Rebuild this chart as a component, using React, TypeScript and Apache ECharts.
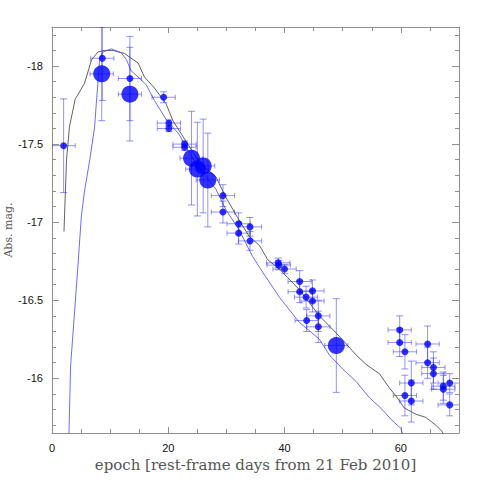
import React, { useEffect, useRef } from "react";
import * as echarts from "echarts";

// ---- data ----
const smallX = [2.0, 8.65, 13.4, 19.2, 20.1, 20.1, 22.8, 22.8, 29.4, 29.4, 32.1, 32.1, 34.05, 34.05, 38.9, 39.0, 40.0, 42.6, 42.6, 44.8, 43.7, 44.8, 45.8, 43.8, 45.8, 59.8, 59.8, 60.7, 64.6, 64.6, 65.6, 65.6, 61.8, 60.7, 61.8, 67.3, 67.3, 68.4, 68.4];
const smallY = [-17.49, -18.05, -17.92, -17.8, -17.635, -17.6, -17.5, -17.48, -17.17, -17.065, -16.99, -16.93, -16.97, -16.88, -16.74, -16.725, -16.7, -16.62, -16.555, -16.56, -16.52, -16.495, -16.4, -16.37, -16.33, -16.31, -16.23, -16.17, -16.22, -16.1, -16.07, -16.03, -15.97, -15.89, -15.855, -15.95, -15.93, -15.97, -15.83];
const smallYErr = [0.3, 0.27, 0.27, 0.035, 0.02, 0.02, 0.02, 0.02, 0.07, 0.07, 0.07, 0.07, 0.06, 0.06, 0.03, 0.03, 0.03, 0.07, 0.07, 0.07, 0.07, 0.07, 0.1, 0.07, 0.1, 0.09, 0.09, 0.11, 0.115, 0.1, 0.1, 0.1, 0.14, 0.13, 0.135, 0.09, 0.09, 0.06, 0.07];
const smallXErr = [2, 2, 2, 2, 2, 2, 2, 2, 2, 2, 2, 2, 2, 2, 2, 2, 2, 2, 2, 2, 2, 2, 2, 2, 2, 2, 2, 2, 2, 2, 2, 2, 2, 2, 2, 2, 2, 2, 2];

const bigX = [8.55, 13.4, 24.0, 25.0, 26.0, 26.8, 48.9];
const bigY = [-17.95, -17.82, -17.41, -17.34, -17.36, -17.27, -16.21];
const bigYErr = [0.3, 0.3, 0.3, 0.3, 0.3, 0.3, 0.3];
const bigXErr = [2, 2, 2, 2, 2, 2, 2];

const blackX = [2.06, 2.5, 3.0, 4.0, 4.2, 5.6, 6.8, 7.9, 9.0, 10.5, 12.5, 13.6, 14.8, 15.9, 17.6, 19.6, 20.8, 22.5, 25.4, 28.2, 29.9, 31.9, 33.9, 35.7, 37.1, 39.1, 42.5, 46.0, 49.4, 52.3, 54.0, 56.3, 58.0, 59.1, 60.6, 62.6, 64.3, 66.0, 67.1, 67.6];
const blackY = [-16.94, -17.4, -17.61, -17.79, -17.8, -17.89, -18.04, -18.09, -18.1, -18.1, -18.08, -18.05, -18.02, -17.93, -17.86, -17.76, -17.65, -17.55, -17.38, -17.29, -17.16, -17.03, -16.91, -16.85, -16.76, -16.7, -16.57, -16.4, -16.27, -16.15, -16.09, -16.03, -15.94, -15.89, -15.81, -15.77, -15.75, -15.7, -15.66, -15.62];

const blueX = [2.9, 3.2, 4.46, 5.05, 5.6, 6.5, 7.33, 7.62, 7.9, 8.2, 8.76, 10.2, 11.9, 12.8, 13.6, 15.1, 16.2, 17.6, 19.6, 21.9, 23.1, 24.2, 25.9, 28.2, 29.9, 32.2, 34.5, 35.7, 39.1, 42.5, 46.0, 47.7, 50.0, 52.3, 54.5, 56.8, 58.5, 60.0, 60.5];
const blueY = [-15.62, -16.08, -16.72, -17.04, -17.2, -17.4, -17.61, -17.76, -17.89, -18.05, -18.09, -18.11, -18.085, -18.04, -17.97, -17.92, -17.88, -17.78, -17.66, -17.56, -17.48, -17.41, -17.32, -17.21, -17.08, -16.95, -16.78, -16.71, -16.52, -16.36, -16.25, -16.15, -16.06, -15.98, -15.88, -15.8, -15.73, -15.68, -15.62];

const X_MIN = 0;
const X_MAX = 70;
const X_STEP = 20;
const Y_MIN = -18.25;
const Y_MAX = -15.65;

const xName = "epoch [rest-frame days from 21 Feb 2010]";
const yName = "Abs. mag.";

export default function App() {
  const ref = useRef<HTMLDivElement>(null);
  useEffect(() => {
    if (!ref.current) return;
    const chart = echarts.init(ref.current, null, { renderer: "svg" });

    const errData: number[][] = [];
    smallX.forEach((x, i) => errData.push([x, smallY[i], smallXErr[i], smallYErr[i]]));
    bigX.forEach((x, i) => errData.push([x, bigY[i], bigXErr[i], bigYErr[i]]));

    const errColor = "rgba(40,40,255,0.5)";
    const renderErr = (params: any, api: any) => {
      const x = api.value(0);
      const y = api.value(1);
      const xe = api.value(2);
      const ye = api.value(3);
      const l = api.coord([x - xe, y]);
      const r = api.coord([x + xe, y]);
      const t = api.coord([x, y - ye]);
      const b = api.coord([x, y + ye]);
      const style = { stroke: errColor, lineWidth: 1, fill: "none" };
      const cw = 3.5;
      const ch = 2.5;
      const ln = (x1: number, y1: number, x2: number, y2: number) => ({
        type: "line",
        shape: { x1, y1, x2, y2 },
        style,
      });
      return {
        type: "group",
        children: [
          ln(l[0], l[1], r[0], r[1]),
          ln(l[0], l[1] - ch, l[0], l[1] + ch),
          ln(r[0], r[1] - ch, r[0], r[1] + ch),
          ln(t[0], t[1], b[0], b[1]),
          ln(t[0] - cw, t[1], t[0] + cw, t[1]),
          ln(b[0] - cw, b[1], b[0] + cw, b[1]),
        ],
      };
    };

    const frame = "#8f8f8f";
    const baseX = {
      type: "value",
      min: X_MIN,
      max: X_MAX,
      interval: X_STEP,
      axisLine: { show: true, onZero: false, lineStyle: { color: frame, width: 1 } },
      axisTick: { show: true, inside: true, length: 6, lineStyle: { color: frame } },
      minorTick: { show: true, splitNumber: 4, length: 4, lineStyle: { color: frame } },
      splitLine: { show: false },
      minorSplitLine: { show: false },
    };
    const baseY = {
      type: "value",
      inverse: true,
      min: Y_MIN,
      max: Y_MAX,
      axisLine: { show: true, onZero: false, lineStyle: { color: frame, width: 1 } },
      axisTick: { show: true, inside: true, length: 7, lineStyle: { color: frame } },
      minorTick: { show: true, splitNumber: 5, length: 4, lineStyle: { color: frame } },
      splitLine: { show: false },
      minorSplitLine: { show: false },
    };

    chart.setOption({
      animation: false,
      backgroundColor: "#ffffff",
      grid: {
        left: 52,
        right: 26,
        top: 27,
        bottom: 52,
        containLabel: false,
        outerBoundsMode: "none",
      },
      xAxis: [
        {
          ...baseX,
          position: "bottom",
          name: xName,
          nameLocation: "middle",
          nameGap: 22,
          nameTextStyle: { fontFamily: "DejaVu Serif", fontSize: 15, color: "#555555" },
          axisLabel: {
            show: true,
            margin: 9,
            showMaxLabel: false,
            fontFamily: "Liberation Sans",
            fontSize: 11,
            color: "#111111",
          },
        },
        { ...baseX, position: "top", axisLabel: { show: false } },
      ],
      yAxis: [
        {
          ...baseY,
          position: "left",
          name: yName,
          nameLocation: "middle",
          nameMoveOverlap: false,
          nameGap: 38,
          nameTextStyle: { fontFamily: "DejaVu Serif", fontSize: 11, color: "#555555" },
          axisLabel: {
            show: true,
            margin: 9,
            showMinLabel: false,
            showMaxLabel: false,
            fontFamily: "Liberation Sans",
            fontSize: 11,
            color: "#111111",
            formatter: (v: number) => String(v),
          },
        },
        { ...baseY, position: "right", axisLabel: { show: false } },
      ],
      series: [
        {
          type: "line",
          data: blackX.map((x, i) => [x, blackY[i]]),
          showSymbol: false,
          clip: true,
          lineStyle: { color: "#3a3a3a", width: 0.8 },
          z: 1,
        },
        {
          type: "line",
          data: blueX.map((x, i) => [x, blueY[i]]),
          showSymbol: false,
          clip: true,
          lineStyle: { color: "#4646ff", width: 0.8 },
          z: 1,
        },
        {
          type: "custom",
          renderItem: renderErr,
          data: errData,
          clip: true,
          z: 2,
        },
        {
          type: "scatter",
          data: smallX.map((x, i) => [x, smallY[i]]),
          symbol: "circle",
          symbolSize: 7,
          itemStyle: { color: "#0000ff" },
          z: 3,
        },
        {
          type: "scatter",
          data: bigX.map((x, i) => [x, bigY[i]]),
          symbol: "circle",
          symbolSize: 17,
          itemStyle: { color: "#0000ff" },
          z: 3,
        },
      ],
    });
    return () => chart.dispose();
  }, []);
  return (
    <div
      ref={ref}
      style={{ position: "fixed", left: 0, top: 0, width: 485, height: 485, background: "#fff" }}
    />
  );
}
